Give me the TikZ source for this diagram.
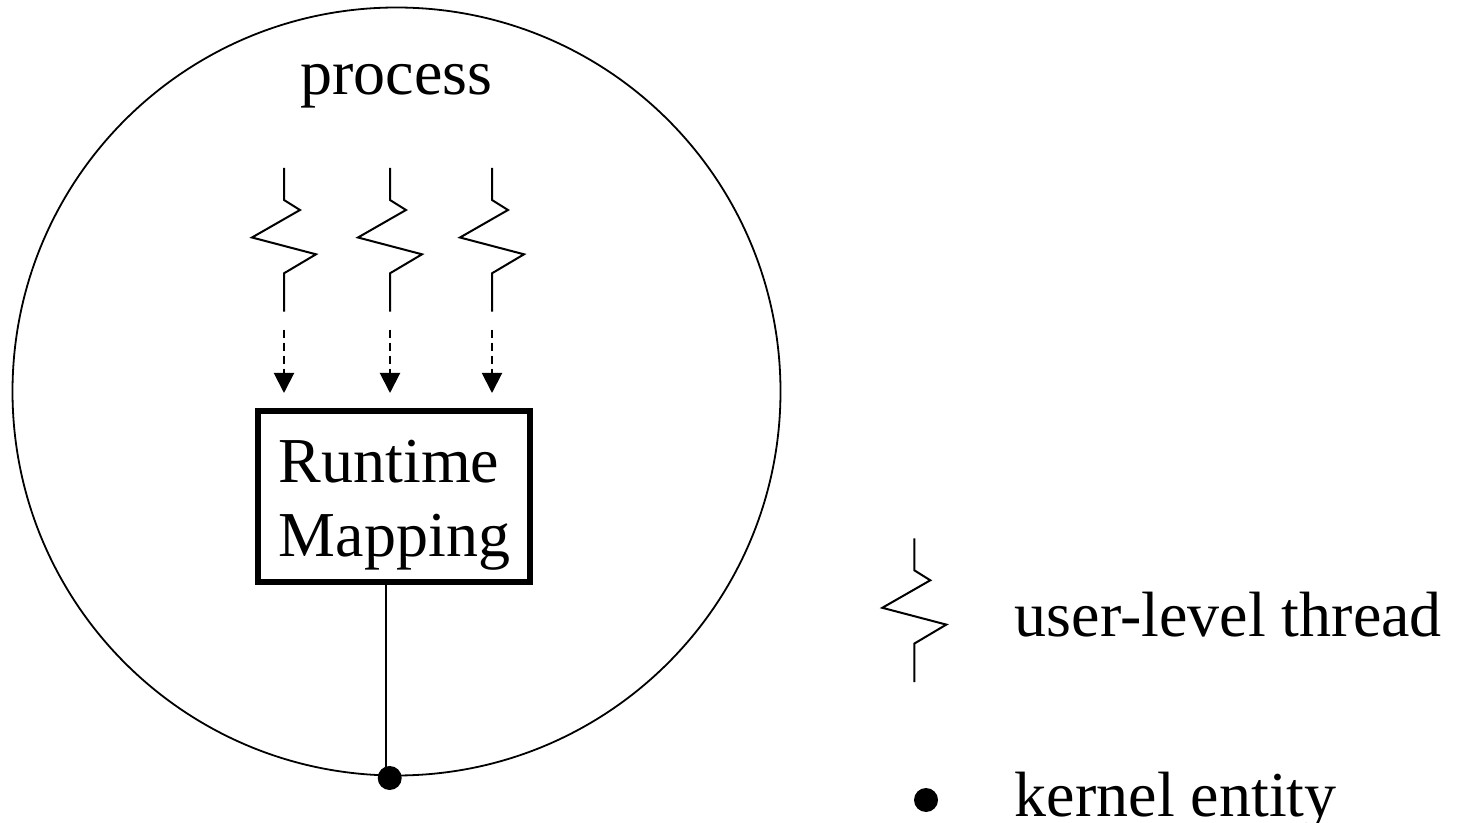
\documentclass[tikz,border=0pt]{standalone}
\usepackage{fontspec}
\setmainfont{Liberation Serif}
\usetikzlibrary{arrows.meta}
\begin{document}
\begin{tikzpicture}[x=0.5pt,y=-0.5pt,
  thr/.style={line width=1pt, line join=miter},
  lbl/.style={font=\fontsize{32}{37}\selectfont, inner sep=0pt, anchor=base west},
  mapbox/.style={draw, line width=3pt, minimum width=136pt, minimum height=85.5pt, inner sep=0pt},
  kdotstyle/.style={circle, fill=black, minimum size=12pt, inner sep=0pt},
  dasharrow/.style={line width=1pt, dash pattern=on 4pt off 2.5pt, -{Triangle[length=10pt,width=10pt]}, shorten <=9pt, shorten >=7.5pt},
  uthread/.pic={
    \draw[thr] (0,0) -- (0,32) -- (16,42) -- (-32,69.5) -- (32,86.3) -- (0,105.3) -- (0,143.7);
    \coordinate (-end) at (0,143.7);
  }]
\useasboundingbox (0,0) rectangle (1457,823);
% process circle
\node[draw, circle, line width=0.9pt, minimum size=384pt, inner sep=0pt] (proc) at (396.5,391.5) {};
\node[lbl] (proclabel) at (300,95) {process};
% runtime mapping box
\node[mapbox] (rt) at (394,496.5) {};
\node[lbl] (rt1) at (278.5,482.7) {Runtime};
\node[lbl] (rt2) at (278.5,556.7) {Mapping};
% threads
\pic (t1) at (284,168) {uthread};
\pic (t2) at (390,168) {uthread};
\pic (t3) at (492,168) {uthread};
\draw[dasharrow] (t1-end) -- (t1-end |- rt.north);
\draw[dasharrow] (t2-end) -- (t2-end |- rt.north);
\draw[dasharrow] (t3-end) -- (t3-end |- rt.north);
% kernel entity
\node[kdotstyle] (kdot) at (389.7,778) {};
\coordinate (kline) at (386,770);
\draw[line width=0.8pt] (kline |- rt.south) -- (kline);
% legend
\pic (lt) at (914.3,538.3) {uthread};
\node[lbl] (ltlabel) at (1014.5,636.7) {user-level thread};
\node[kdotstyle] (ldot) at (926,800) {};
\node[lbl] (ldotlabel) at (1014.5,816.7) {kernel entity};
\end{tikzpicture}
\end{document}
